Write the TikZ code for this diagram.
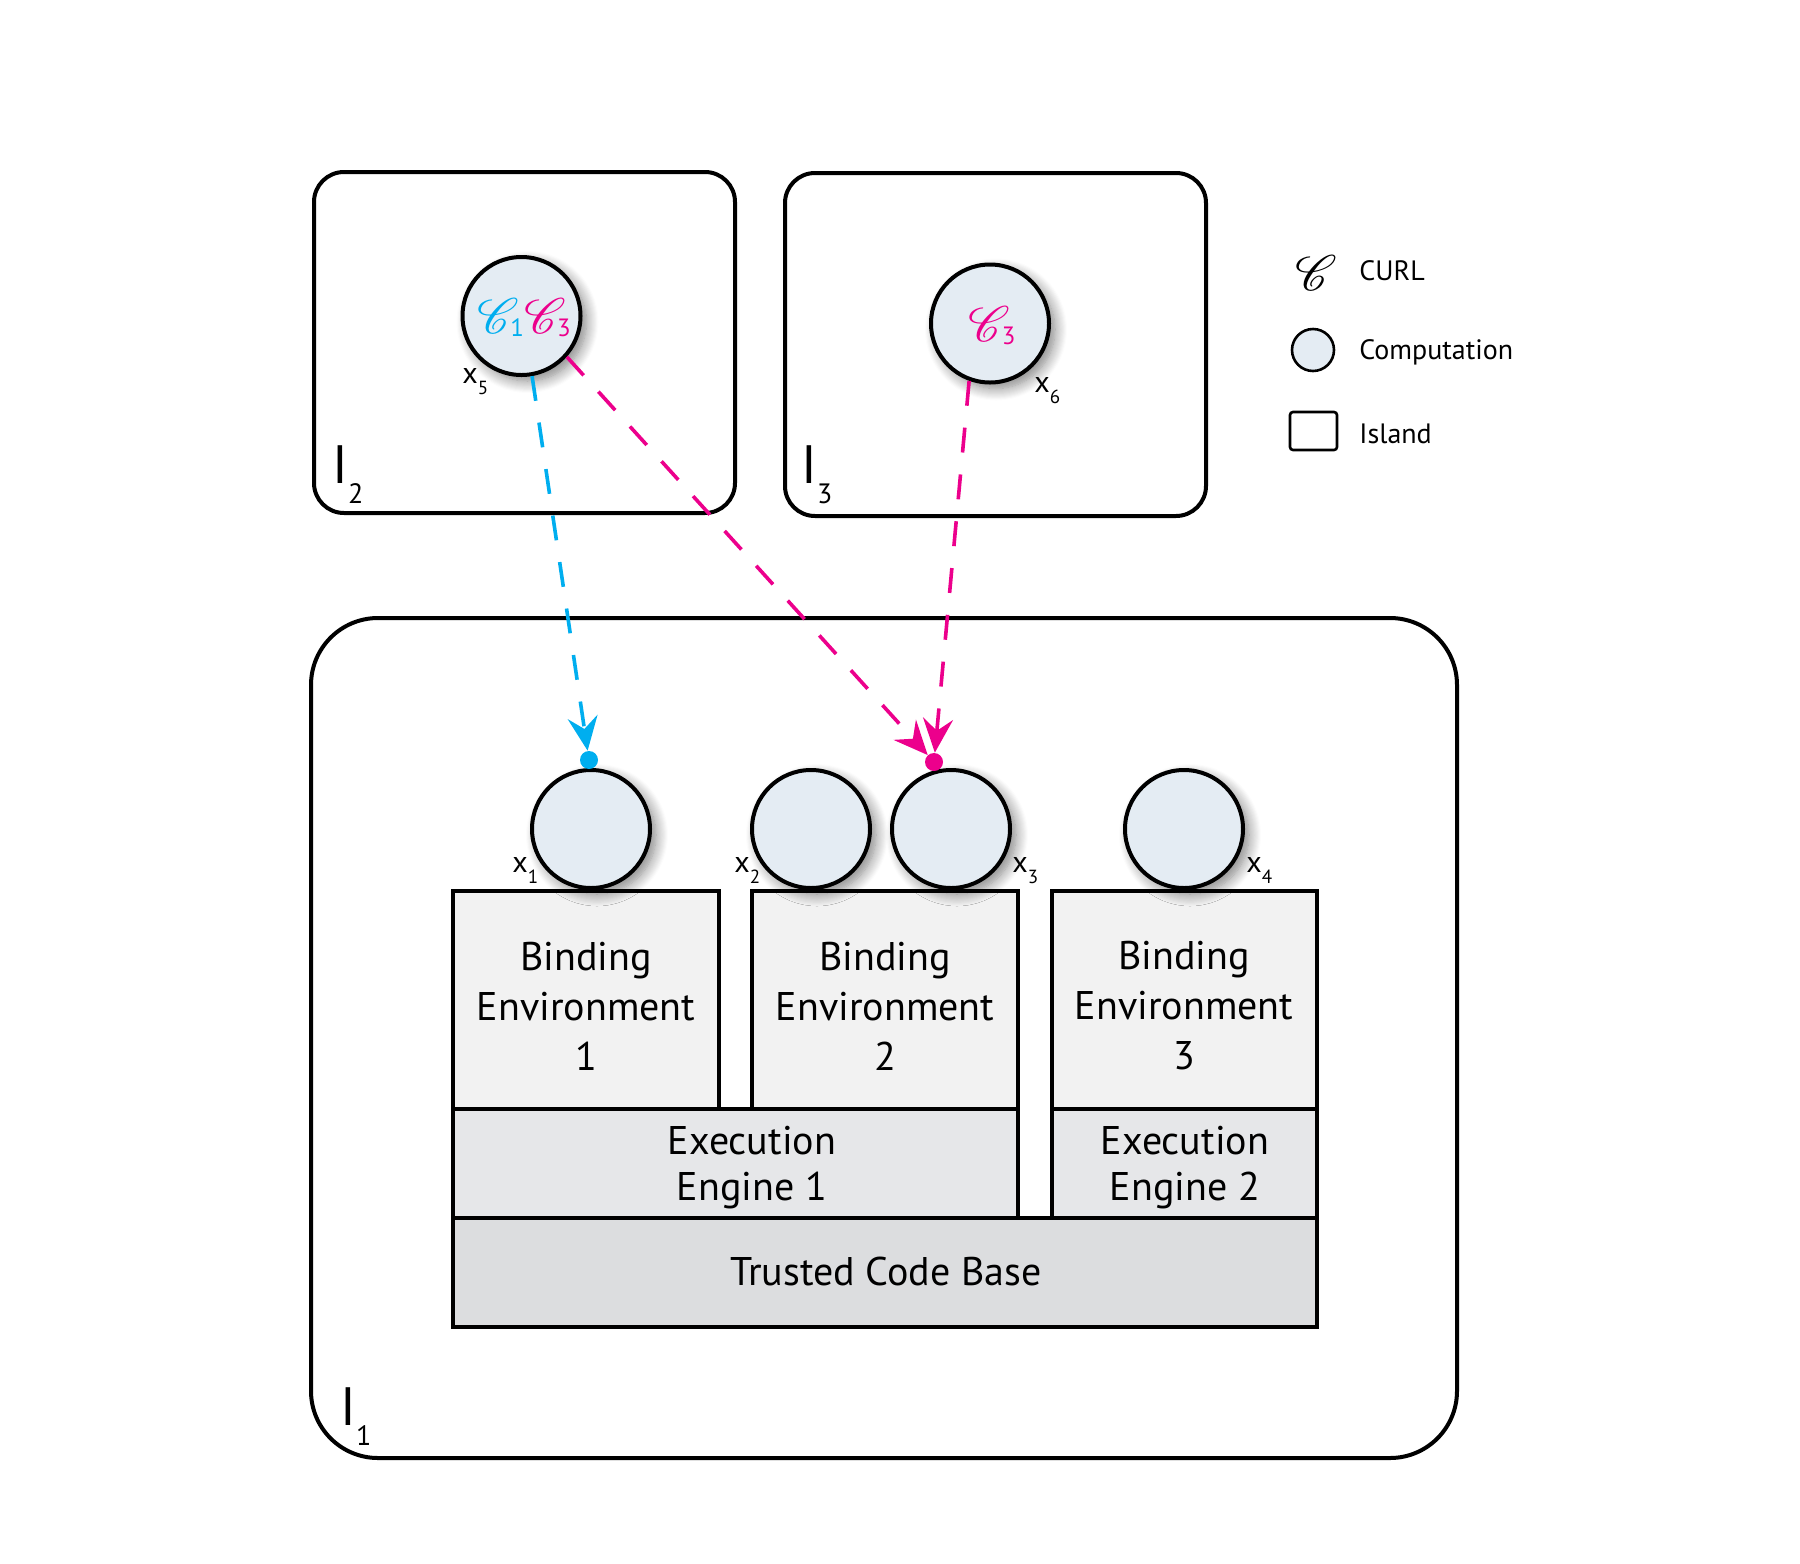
\documentclass[tikz,border=0pt]{standalone}
\usepackage{fontspec}
\setmainfont{PT Sans}
\usepackage{mathrsfs}
\usetikzlibrary{arrows.meta,shadows.blur}
\definecolor{curlcyan}{RGB}{0,174,239}
\definecolor{curlmag}{RGB}{236,0,140}
\definecolor{compfill}{RGB}{228,236,243}
\definecolor{befill}{RGB}{242,242,242}
\definecolor{eefill}{RGB}{230,231,233}
\definecolor{tcbfill}{RGB}{220,221,223}
\newcommand{\curlC}[1]{{\fontsize{#1}{#1}\usefont{U}{rsfs}{m}{n}C}}
\newcommand{\curlsub}[1]{\curlC{23}\raisebox{-1.5pt}{\fontsize{12.5}{12.5}\selectfont #1}}
\newcommand{\xsub}[1]{x\raisebox{-5.5pt}{\fontsize{9.5}{9.5}\selectfont #1}}
\newcommand{\isub}[1]{I\raisebox{-10pt}{\fontsize{14}{14}\selectfont #1}}
\tikzset{
  island/.style={draw, line width=2pt, rounded corners=15pt, inner sep=0pt},
  comp/.style={circle, draw, line width=2pt, fill=compfill, minimum size=59pt, inner sep=0pt,
    blur shadow={shadow xshift=3pt, shadow yshift=-3pt, shadow blur radius=6pt, shadow blur steps=12, shadow opacity=50}},
  layerbox/.style={draw, line width=2pt, inner sep=0pt},
  layertext/.style={inner sep=0pt, align=center},
  befont/.style={font=\fontsize{20}{25}\selectfont},
  eefont/.style={font=\fontsize{20}{23}\selectfont},
  flow/.style={line width=1.8pt, dash pattern=on 12.5pt off 11pt,
    -{Stealth[length=17pt,width=15pt,inset=6pt]}},
  enddot/.style={circle, inner sep=0pt, minimum size=9pt},
  xlab/.style={anchor=base west, inner sep=0pt, font=\fontsize{15}{15}\selectfont},
  ilab/.style={anchor=base west, inner sep=0pt, font=\fontsize{27}{27}\selectfont},
  legtext/.style={anchor=base west, inner sep=0pt, font=\fontsize{14}{14}\selectfont},
}
\begin{document}
\begin{tikzpicture}[x=0.5pt,y=-0.5pt]
\useasboundingbox (0,0) rectangle (1800,1564);
% islands
\node[island, rounded corners=33.5pt, minimum width=573pt, minimum height=420pt] (I1) at (884,1038) {};
\node[island, minimum width=210.5pt, minimum height=170.5pt] (I2) at (524.5,342.5) {};
\node[island, minimum width=210.5pt, minimum height=171.5pt] (I3) at (995.5,344.5) {};
% layers
\node[layerbox, fill=befill, minimum width=133pt, minimum height=109pt] (be1) at (586,1000) {};
\node[layerbox, fill=befill, minimum width=133pt, minimum height=109pt] (be2) at (885,1000) {};
\node[layerbox, fill=befill, minimum width=132.5pt, minimum height=109pt] (be3) at (1184.5,1000) {};
\node[layerbox, fill=eefill, minimum width=282.5pt, minimum height=54.5pt] (ee1) at (735.5,1163.5) {};
\node[layerbox, fill=eefill, minimum width=132.5pt, minimum height=54.5pt] (ee2) at (1184.5,1163.5) {};
\node[layerbox, fill=tcbfill, minimum width=432pt, minimum height=54.5pt] (tcb) at (885,1272.5) {};
\node[layertext, befont] (be1t) at (586,1006) {Binding\\Environment\\1};
\node[layertext, befont] (be2t) at (885,1006) {Binding\\Environment\\2};
\node[layertext, befont] (be3t) at (1184,1006) {Binding\\Environment\\3};
\node[layertext, eefont] (ee1t) at (752,1168) {Execution\\Engine 1};
\node[layertext, eefont] (ee2t) at (1185,1168) {Execution\\Engine 2};
\node[layertext, befont] (tcbt) at (886,1271) {Trusted Code Base};
% computations
\node[comp] (x1) at (591,829) {};
\node[comp] (x2) at (811,829) {};
\node[comp] (x3) at (951,829) {};
\node[comp] (x4) at (1184,829) {};
\node[comp] (x5) at (521.5,316) {};
\node[comp] (x6) at (990,323.5) {};
% curls inside computations
\node[inner sep=0pt] (c5) at (524,318) {{\color{curlcyan}\curlsub{1}}{\color{curlmag}\curlsub{3}}};
\node[inner sep=0pt] (c6) at (992,326) {{\color{curlmag}\curlsub{3}}};
% end dots
\node[enddot, fill=curlcyan] (cdot) at (589,760) {};
\node[enddot, fill=curlmag] (mdot) at (934,762) {};
% connectors
\draw[flow, curlcyan] (x5.-80) -- (cdot);
\draw[flow, curlmag] (x5.-42) -- (mdot);
\draw[flow, curlmag] (x6.-110) -- (mdot);
% computation labels
\node[xlab] (l1) at (512,872) {\xsub{1}};
\node[xlab] (l2) at (734,872) {\xsub{2}};
\node[xlab] (l3) at (1012,872) {\xsub{3}};
\node[xlab] (l4) at (1246,872) {\xsub{4}};
\node[xlab] (l5) at (462,383) {\xsub{5}};
\node[xlab] (l6) at (1034,392) {\xsub{6}};
% island labels
\node[ilab] (li2) at (332,483) {\isub{2}};
\node[ilab] (li3) at (801,483) {\isub{3}};
\node[ilab] (li1) at (340,1425) {\isub{1}};
% legend
\node[inner sep=0pt] (legc) at (1312,273) {\curlC{23}};
\node[legtext] (legct) at (1359,280) {CURL};
\node[circle, draw, line width=1.3pt, fill=compfill, minimum size=21pt, inner sep=0pt] (legp) at (1313,350) {};
\node[legtext] (legpt) at (1359,359) {Computation};
\node[draw, line width=1.3pt, rounded corners=1.5pt, minimum width=23.5pt, minimum height=19pt, inner sep=0pt] (legi) at (1313.5,431) {};
\node[legtext] (legit) at (1359,443) {Island};
\end{tikzpicture}
\end{document}
